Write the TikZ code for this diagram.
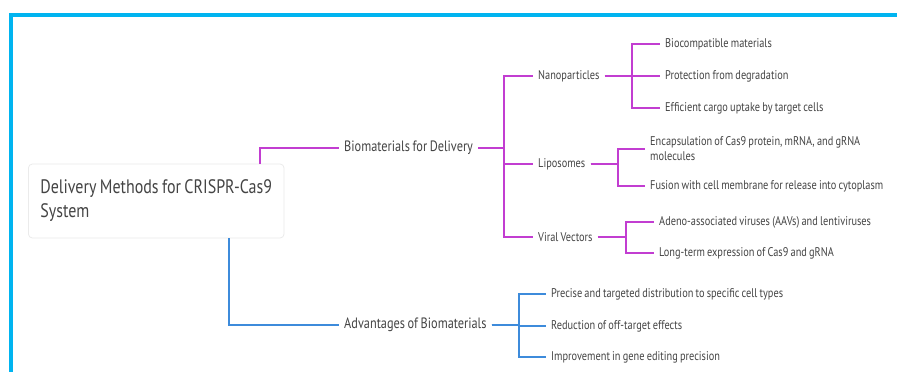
\documentclass[tikz,border=0pt]{standalone}
\usepackage{fontspec}
\setmainfont{PT Sans}[FakeStretch=0.82, WordSpace=0.8]
\usetikzlibrary{calc}
\definecolor{framec}{HTML}{00B4F0}
\definecolor{purc}{HTML}{C23DD1}
\definecolor{bluc}{HTML}{3D8BDB}
\definecolor{txtc}{HTML}{444444}
\definecolor{boxc}{HTML}{EBEBEB}
\tikzset{
  rootbox/.style={anchor=west, draw=boxc, fill=white, rounded corners=4pt, line width=0.8pt,
    minimum height=74pt, inner xsep=12pt,
    align=left, text=txtc, font=\fontsize{19.5}{24}\selectfont},
  midnode/.style={anchor=west, inner xsep=5pt, inner ysep=2pt, text=txtc, font=\fontsize{15}{17}\selectfont},
  subnode/.style={anchor=west, inner xsep=5pt, inner ysep=2pt, text=txtc, font=\fontsize{12.6}{15}\selectfont},
  leafnode/.style={anchor=west, inner xsep=5pt, inner ysep=2pt, text=txtc, align=left, font=\fontsize{12.6}{15}\selectfont},
  pline/.style={draw=purc, line width=2pt},
  bline/.style={draw=bluc, line width=2pt},
}
\begin{document}
\begin{tikzpicture}[x=1pt,y=-1pt]
\useasboundingbox (0,0) rectangle (897,372);
\fill[white] (0,0) rectangle (897,372);
\draw[framec, line width=4pt, line join=miter] (11,372) -- (11,15.3) -- (897,15.3);

\node[rootbox] (root) at (28,201) {Delivery Methods for CRISPR-Cas9\\System};

\node[midnode] (bio) at (339,148) {Biomaterials for Delivery};
\node[midnode] (adv) at (339,325) {Advantages of Biomaterials};

\node[subnode] (nano) at (533,76) {Nanoparticles};
\node[subnode] (lipo) at (533,164) {Liposomes};
\node[subnode] (vir) at (533,237) {Viral Vectors};

\node[leafnode] (n1) at (660,44) {Biocompatible materials};
\node[leafnode] (n2) at (660,76) {Protection from degradation};
\node[leafnode] (n3) at (660,108) {Efficient cargo uptake by target cells};
\node[leafnode] (l1) at (645,148.5) {Encapsulation of Cas9 protein, mRNA, and gRNA\\molecules};
\node[leafnode] (l2) at (645,186) {Fusion with cell membrane for release into cytoplasm};
\node[leafnode] (v1) at (654,222) {Adeno-associated viruses (AAVs) and lentiviruses};
\node[leafnode] (v2) at (654,253) {Long-term expression of Cas9 and gRNA};
\node[leafnode] (a1) at (546,294) {Precise and targeted distribution to specific cell types};
\node[leafnode] (a2) at (546,326) {Reduction of off-target effects};
\node[leafnode] (a3) at (546,357) {Improvement in gene editing precision};

\coordinate (rp) at (260,0);
\coordinate (rb) at (229,0);
\coordinate (bbio) at (504,0);
\coordinate (bnano) at (632,0);
\coordinate (blipo) at (618,0);
\coordinate (bvir) at (626,0);
\coordinate (badv) at (519,0);

\draw[pline] (root.north -| rp) |- (bio.west);
\draw[bline] (root.south -| rb) |- (adv.west);

\foreach \c in {nano,lipo,vir}
  \draw[pline] (bio.east) -- (bio.east -| bbio) |- (\c.west);
\foreach \c in {n1,n2,n3}
  \draw[pline] (nano.east) -- (nano.east -| bnano) |- (\c.west);
\foreach \c in {l1,l2}
  \draw[pline] (lipo.east) -- (lipo.east -| blipo) |- (\c.west);
\foreach \c in {v1,v2}
  \draw[pline] (vir.east) -- (vir.east -| bvir) |- (\c.west);
\foreach \c in {a1,a2,a3}
  \draw[bline] (adv.east) -- (adv.east -| badv) |- (\c.west);
\end{tikzpicture}
\end{document}
